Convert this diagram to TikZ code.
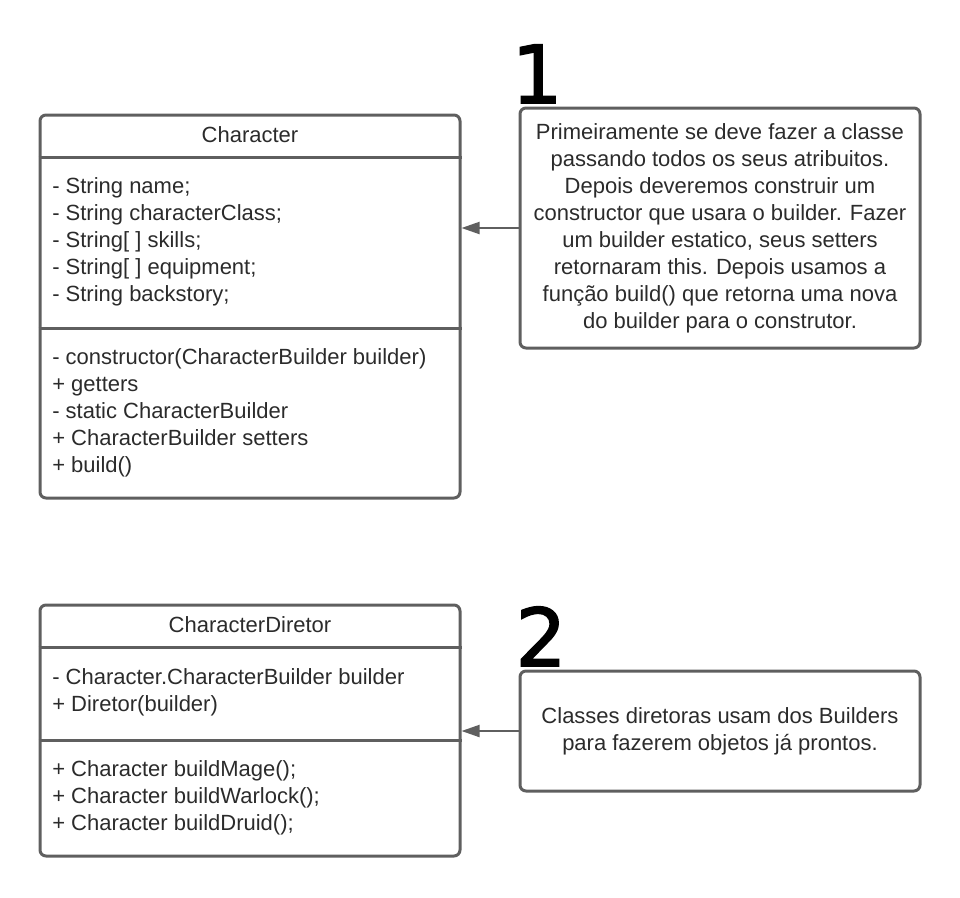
\documentclass[tikz,border=0pt]{standalone}
\usepackage{fontspec}
\setmainfont{Liberation Sans}
\newfontfamily\digitfont[FakeBold=2]{DejaVu Sans}
\usetikzlibrary{arrows.meta}
\definecolor{edge}{HTML}{5F5F5F}
\definecolor{ink}{HTML}{2B2B2B}

\begin{document}
\begin{tikzpicture}[x=0.75pt,y=-0.75pt,
	box/.style={draw=edge, line width=2.25pt, rounded corners=4.5pt, inner sep=0pt},
	txt/.style={text=ink, font=\fontsize{16.5}{20.25}\selectfont, inner sep=0pt},
	divider/.style={draw=edge, line width=2.25pt},
	link/.style={draw=edge, line width=1.5pt, -{Triangle[length=13.5pt,width=9pt]}},
	bignum/.style={font=\digitfont\fontsize{60}{60}\selectfont, inner sep=0pt, anchor=base}]
	\useasboundingbox (0,0) rectangle (960,897);
	% Character
	\node[box, minimum width=315pt, minimum height=287.25pt] (character) at (250,306.5) {};
	\draw[divider] (character.west |- 0,157) -- (character.east |- 0,157);
	\draw[divider] (character.west |- 0,328) -- (character.east |- 0,328);
	\node[txt] (chartitle) at (250,135) {Character};
	\node[txt, anchor=west, align=left] (charattr) at (52,242) {- String name;\\- String characterClass;\\- String[ ] skills;\\- String[ ] equipment;\\- String backstory;};
	\node[txt, anchor=west, align=left] (charmeth) at (52,413) {- constructor(CharacterBuilder builder)\\+ getters\\- static CharacterBuilder\\+ CharacterBuilder setters\\+ build()};
	% CharacterDiretor
	\node[box, minimum width=315pt, minimum height=188.25pt] (diretor) at (250,730.5) {};
	\draw[divider] (diretor.west |- 0,647) -- (diretor.east |- 0,647);
	\draw[divider] (diretor.west |- 0,740) -- (diretor.east |- 0,740);
	\node[txt] (dirtitle) at (250,625) {CharacterDiretor};
	\node[txt, anchor=west, align=left] (dirattr) at (52,692) {- Character.CharacterBuilder builder\\+ Diretor(builder)};
	\node[txt, anchor=west, align=left] (dirmeth) at (52,798) {+ Character buildMage();\\+ Character buildWarlock();\\+ Character buildDruid();};
	% notes
	\node[box, txt, align=center, minimum width=300pt, minimum height=180pt] (note1) at (720,228) {Primeiramente se deve fazer a classe\\passando todos os seus atribuitos.\\Depois deveremos construir um\\constructor que usara o builder. Fazer\\um builder estatico, seus setters\\retornaram this. Depois usamos a\\função build() que retorna uma nova\\do builder para o construtor.};
	\node[box, txt, align=center, minimum width=300pt, minimum height=90pt] (note2) at (720,731) {Classes diretoras usam dos Builders\\para fazerem objetos já prontos.};
	\node[bignum] (one) at (537,103) {1};
	\node[bignum] (two) at (541,666) {2};
	\draw[link] (note1.west) -- (note1.west -| character.east);
	\draw[link] (note2.west) -- (note2.west -| diretor.east);
\end{tikzpicture}
\end{document}
